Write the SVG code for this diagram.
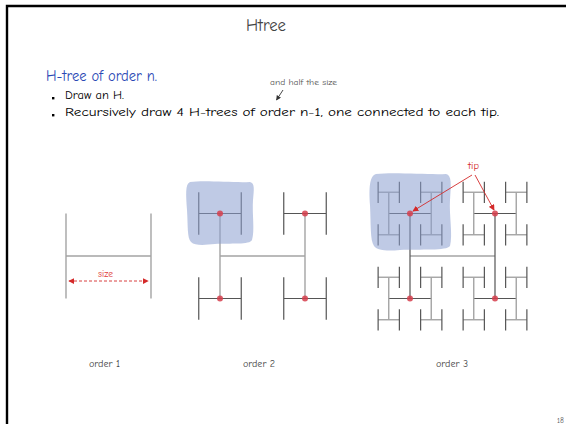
<svg xmlns="http://www.w3.org/2000/svg" xmlns:xlink="http://www.w3.org/1999/xlink" width="566" height="424" viewBox="0 0 566 424">
<style>
  .txt{font-family:"Comic Neue","DejaVu Sans","Liberation Sans",sans-serif}
  .lt{stroke:#a4a4a4;stroke-width:1.4;fill:none}
  .dk{stroke:#555;stroke-width:1.2;fill:none}
  .blob{fill:#8b9fd0;opacity:0.55}
  .dot{fill:#d63e4c;opacity:0.85}
  .red{stroke:#d42a2a;stroke-width:0.9;fill:none}
</style>
<defs>
  <marker id="ah" viewBox="0 0 8 8" refX="7" refY="4" markerWidth="6" markerHeight="6" orient="auto-start-reverse" markerUnits="userSpaceOnUse">
    <path d="M0 0L8 4L0 8Z" fill="#d42a2a"/>
  </marker>
  <marker id="ahk" viewBox="0 0 8 8" refX="7" refY="4" markerWidth="5" markerHeight="5" orient="auto" markerUnits="userSpaceOnUse">
    <path d="M0 0L8 4L0 8Z" fill="#333"/>
  </marker>
  <g id="l3">
    <path class="lt" d="M-10.625 0H10.625"/>
    <path class="dk" d="M-10.625 -10.625V10.625M10.625 -10.625V10.625"/>
  </g>
  <g id="q">
    <path class="dk" d="M-21.25 0H21.25"/>
    <path class="lt" d="M-21.25 -21.25V21.25M21.25 -21.25V21.25"/>
    <use xlink:href="#l3" x="-21.25" y="-21.25"/>
    <use xlink:href="#l3" x="21.25" y="-21.25"/>
    <use xlink:href="#l3" x="-21.25" y="21.25"/>
    <use xlink:href="#l3" x="21.25" y="21.25"/>
  </g>
</defs>
<rect width="566" height="424" fill="#fff"/>
<path d="M7 424V6H566" stroke="#000" stroke-width="2.4" fill="none"/>

<text class="txt" x="246" y="31" font-size="17" fill="#444" textLength="40" lengthAdjust="spacingAndGlyphs">Htree</text>
<text class="txt" x="46" y="81" font-size="15" fill="#2a48b4" textLength="111" lengthAdjust="spacingAndGlyphs">H-tree of order n.</text>
<rect x="52" y="97" width="2.4" height="2.4" fill="#000"/>
<text class="txt" x="65" y="99" font-size="12.5" fill="#000" textLength="59" lengthAdjust="spacingAndGlyphs">Draw an H.</text>
<rect x="52" y="114" width="2.4" height="2.4" fill="#000"/>
<text class="txt" x="65" y="116" font-size="12.5" fill="#000" textLength="434" lengthAdjust="spacingAndGlyphs">Recursively draw 4 H-trees of order n-1, one connected to each tip.</text>
<text class="txt" x="270" y="85" font-size="8.5" fill="#555" textLength="67" lengthAdjust="spacingAndGlyphs">and half the size</text>
<path d="M283 90L276.5 100" stroke="#333" stroke-width="0.9" marker-end="url(#ahk)"/>

<g id="order1">
  <path class="lt" d="M66 256H151M66 213.5V298.5M151 213.5V298.5"/>
  <path class="red" d="M69 281H148" stroke-dasharray="3 2" marker-start="url(#ah)" marker-end="url(#ah)"/>
  <text class="txt" x="98" y="277" font-size="9" fill="#e03a3a" textLength="15" lengthAdjust="spacingAndGlyphs">size</text>
  <text class="txt" x="89" y="367" font-size="9.5" fill="#444" textLength="31" lengthAdjust="spacingAndGlyphs">order 1</text>
</g>

<g id="order2">
  <path class="lt" d="M220 256H305M220 213.5V298.5M305 213.5V298.5"/>
  <path class="dk" d="M198.75 213.5H241.25M198.75 192.25V234.75M241.25 192.25V234.75M283.75 213.5H326.25M283.75 192.25V234.75M326.25 192.25V234.75M198.75 298.5H241.25M198.75 277.25V319.75M241.25 277.25V319.75M283.75 298.5H326.25M283.75 277.25V319.75M326.25 277.25V319.75"/>
  <path class="blob" d="M190 182C205 180 235 183 250 182C255 183 254 190 253 200C252 215 255 230 252 240C250 245 230 243 215 244C205 245 195 246 191 242C187 238 188 225 187 210C186 195 185 184 190 182Z"/>
  <circle class="dot" cx="220" cy="213.5" r="3"/>
  <circle class="dot" cx="305" cy="213.5" r="3"/>
  <circle class="dot" cx="220" cy="298.5" r="3"/>
  <circle class="dot" cx="305" cy="298.5" r="3"/>
  <text class="txt" x="243" y="367" font-size="9.5" fill="#444" textLength="32" lengthAdjust="spacingAndGlyphs">order 2</text>
</g>

<g id="order3">
  <path class="lt" d="M410 256H495"/>
  <path class="dk" d="M410 213.5V298.5M495 213.5V298.5"/>
  <use xlink:href="#q" x="410" y="213.5"/>
  <use xlink:href="#q" x="495" y="213.5"/>
  <use xlink:href="#q" x="410" y="298.5"/>
  <use xlink:href="#q" x="495" y="298.5"/>
  <path class="blob" d="M376 174C395 172 430 175 446 174C452 175 451 185 450 200C449 215 453 235 450 246C447 251 420 249 400 250C388 251 378 251 374 246C370 240 371 225 370 205C369 190 369 176 376 174Z"/>
  <circle class="dot" cx="410" cy="213.5" r="3"/>
  <circle class="dot" cx="495" cy="213.5" r="3"/>
  <circle class="dot" cx="410" cy="298.5" r="3"/>
  <circle class="dot" cx="495" cy="298.5" r="3"/>
  <text class="txt" x="468" y="169" font-size="10" fill="#d42a2a" textLength="11" lengthAdjust="spacingAndGlyphs">tip</text>
  <path class="red" d="M472 175L413 211" marker-end="url(#ah)"/>
  <path class="red" d="M475 175L494 210" marker-end="url(#ah)"/>
  <text class="txt" x="436" y="367" font-size="9.5" fill="#444" textLength="32" lengthAdjust="spacingAndGlyphs">order 3</text>
</g>

<text class="txt" x="557" y="423" font-size="7.5" fill="#555">18</text>
</svg>
